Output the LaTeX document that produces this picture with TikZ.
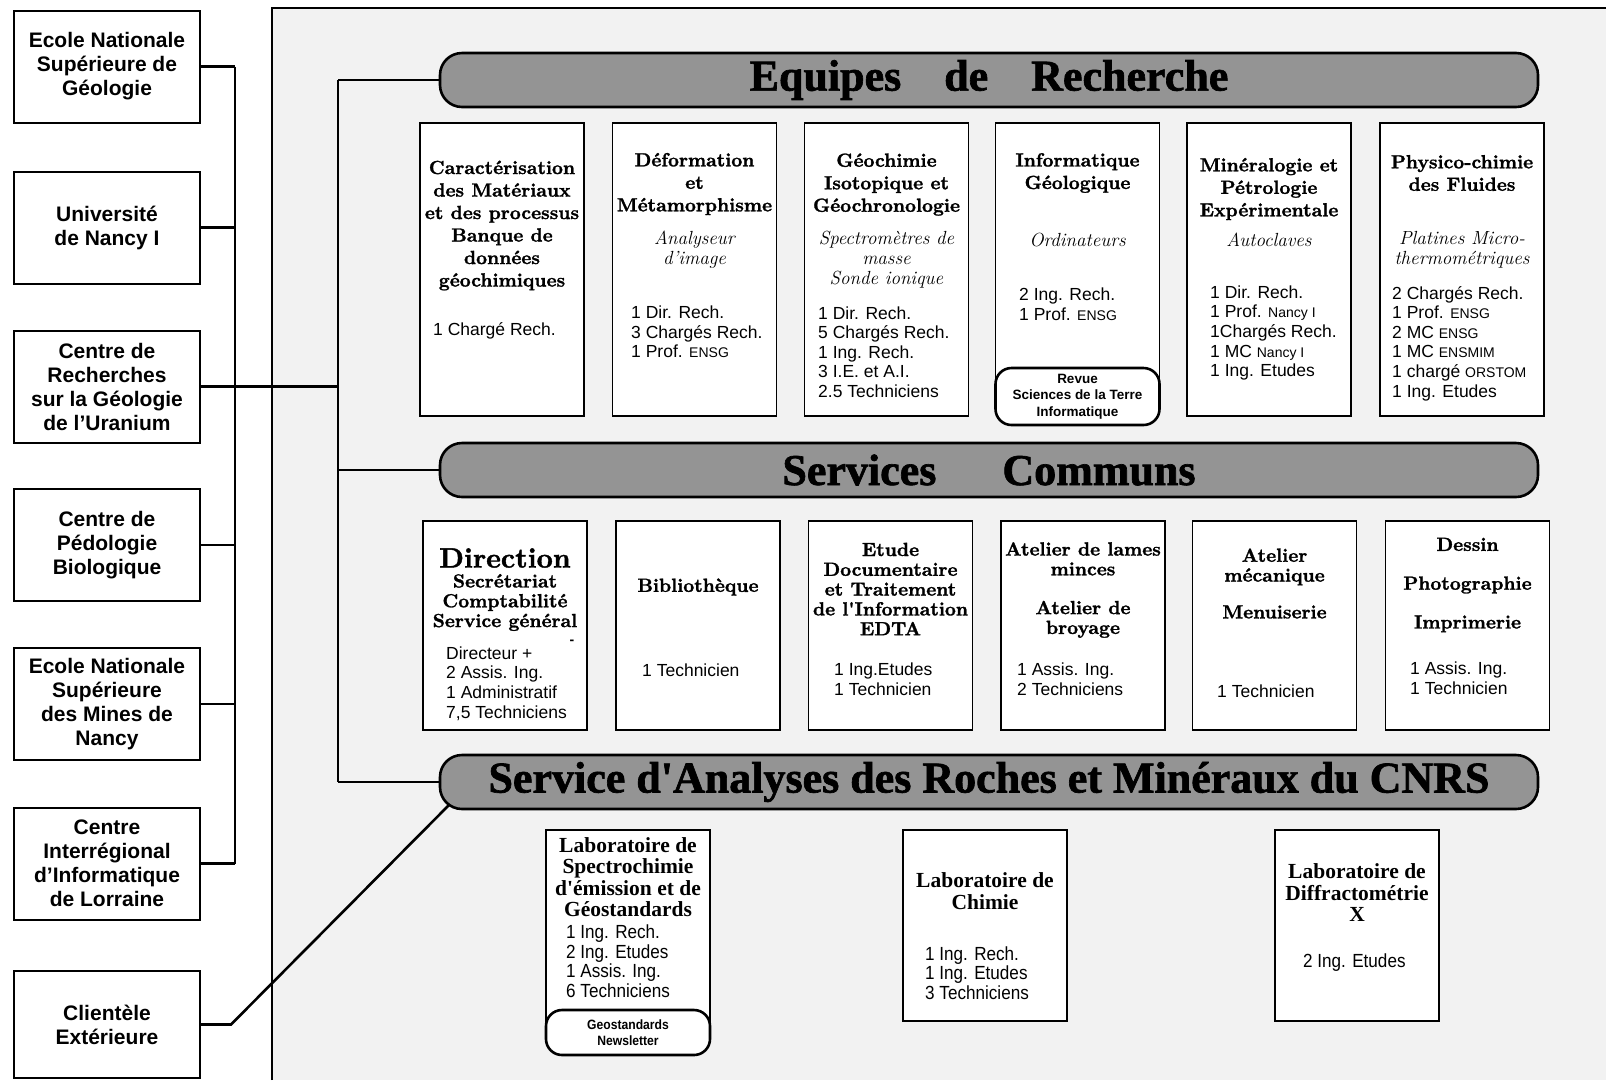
\documentclass[tikz,border=0pt]{standalone}
\usepackage{fontspec}
\setsansfont{Liberation Sans}
\newfontfamily\headfont[FakeBold=1.4]{lmroman10-bold.otf}
\newfontfamily\bannerfont[FakeBold=1.5]{Liberation Serif}
\newfontfamily\labfont{Liberation Serif}
\newfontfamily\narrowsans[FakeStretch=0.9]{Liberation Sans}
\usetikzlibrary{calc}

\newcommand{\smallorg}[1]{{\fontsize{14}{14}\selectfont #1}}

\tikzset{
  orgbox/.style={draw, line width=2pt, fill=white, minimum width=186pt, minimum height=112pt,
    align=center, font=\sffamily\bfseries\fontsize{21}{24}\selectfont},
  unitbox/.style={draw, line width=1.8pt, fill=white, minimum width=164pt},
  banner/.style={draw, line width=2.6pt, rounded corners=22pt, fill=black!42,
    minimum width=1098pt, minimum height=54pt, font=\bannerfont\bfseries\fontsize{44}{44}\selectfont},
  pubbox/.style={draw, line width=2.6pt, rounded corners=16pt, fill=white, minimum width=164pt,
    align=center, inner sep=0pt},
  link/.style={line width=2.6pt},
  head/.style={align=center, inner sep=0pt, font=\headfont\fontsize{19}{22.5}\selectfont},
  headtight/.style={align=center, inner sep=0pt, font=\headfont\fontsize{19}{19.8}\selectfont},
  labhead/.style={align=center, inner sep=0pt, font=\labfont\bfseries\fontsize{21.5}{21.5}\selectfont},
  equip/.style={align=center, inner sep=0pt, font=\itshape\fontsize{19}{20}\selectfont},
  staff/.style={anchor=west, align=left, inner sep=0pt, font=\sffamily\fontsize{17.5}{19.6}\selectfont},
  labstaff/.style={anchor=west, align=left, inner sep=0pt, font=\narrowsans\fontsize{19}{19.5}\selectfont},
}

\begin{document}
\begin{tikzpicture}[x=1pt,y=-1pt]
  \useasboundingbox (0,0) rectangle (1606,1080);

  \fill[black!5] (272,8) rectangle (1606,1080);
  \draw[line width=1.6pt] (272,1080) -- (272,8) -- (1606,8);

  \node[orgbox] (ensg) at (107,66.5) {Ecole Nationale\\Supérieure de\\Géologie};
  \node[orgbox] (nancy) at (107,227.5) {Université\\de Nancy I};
  \node[orgbox] (crgu) at (107,386.5) {Centre de\\Recherches\\sur la Géologie\\de l'Uranium};
  \node[orgbox] (cpb) at (107,545) {Centre de\\Pédologie\\Biologique};
  \node[orgbox] (ensmn) at (107,704) {Ecole Nationale\\Supérieure\\des Mines de\\Nancy};
  \node[orgbox] (ciil) at (107,863.5) {Centre\\Interrégional\\d'Informatique\\de Lorraine};
  \node[orgbox, minimum height=107pt] (client) at (107,1024.5) {Clientèle\\Extérieure};

  \node[banner] (equipes) at (989,80) {Equipes\hspace{43pt}de\hspace{43pt}Recherche};
  \node[banner] (services) at (989,470) {Services\hspace{66pt}Communs};
  \node[banner] (sarm) at (989,782) {Service d'Analyses des Roches et Minéraux du CNRS};

  \coordinate (bus) at (235,0);
  \coordinate (bracket) at (338,0);
  \draw[link] (ensg.east -| bus) -- (ciil.east -| bus);
  \foreach \org in {ensg,nancy,cpb,ensmn,ciil}
    \draw[link] (\org.east) -- (\org.east -| bus);
  \draw[link] (crgu.east) -- (crgu.east -| bracket);
  \draw[link] (equipes.west -| bracket) -- (sarm.west -| bracket);
  \foreach \ban in {equipes,services,sarm}
    \draw[link] (\ban.west -| bracket) -- (\ban.west);
  \draw[link] (client.east) -- ++(30,0) -- ($(sarm.south west)+(11,-6)$);

  \node[unitbox, minimum height=293pt] (carac) at (502,269.5) {};
  \node[head] at (502,225.5) {Caractérisation\\des Matériaux\\et des processus\\Banque de\\données\\géochimiques};
  \node[staff] at (433,331) {1 Chargé Rech.};

  \node[unitbox, minimum height=293pt] (deform) at (694.5,269.5) {};
  \node[head] at (694.5,184) {Déformation\\et\\Métamorphisme};
  \node[equip] at (694.5,250) {Analyseur\\d'image};
  \node[staff] at (631,332) {1 Dir. Rech.\\3 Chargés Rech.\\1 Prof. \smallorg{ENSG}};

  \node[unitbox, minimum height=293pt] (geochim) at (886.5,269.5) {};
  \node[head] at (886.5,184.5) {Géochimie\\Isotopique et\\Géochronologie};
  \node[equip] at (886.5,260) {Spectromètres de\\masse\\Sonde ionique};
  \node[staff] at (818,352) {1 Dir. Rech.\\5 Chargés Rech.\\1 Ing. Rech.\\3 I.E. et A.I.\\2.5 Techniciens};

  \node[unitbox, minimum height=277pt] (info) at (1077.5,261.5) {};
  \node[head] at (1077.5,173) {Informatique\\Géologique};
  \node[equip] at (1077.5,240) {Ordinateurs};
  \node[staff] at (1019,304) {2 Ing. Rech.\\1 Prof. \smallorg{ENSG}};
  \node[pubbox, minimum height=57pt, font=\sffamily\bfseries\fontsize{13.5}{16.5}\selectfont] (revue)
    at (1077.5,396.5) {Revue\\Sciences de la Terre\\Informatique};

  \node[unitbox, minimum height=293pt] (mineral) at (1269,269.5) {};
  \node[head] at (1269,189) {Minéralogie et\\Pétrologie\\Expérimentale};
  \node[equip] at (1269,240) {Autoclaves};
  \node[staff] at (1210,333) {1 Dir. Rech.\\1 Prof. \smallorg{Nancy I}\\1Chargés Rech.\\1 MC \smallorg{Nancy I}\\1 Ing. Etudes};

  \node[unitbox, minimum height=293pt] (fluides) at (1462,269.5) {};
  \node[head] at (1462,173) {Physico-chimie\\des Fluides};
  \node[equip] at (1462,249.5) {Platines Micro-\\thermométriques};
  \node[staff] at (1392,343.5) {2 Chargés Rech.\\1 Prof. \smallorg{ENSG}\\2 MC \smallorg{ENSG}\\1 MC \smallorg{ENSMIM}\\1 chargé \smallorg{ORSTOM}\\1 Ing. Etudes};

  \node[unitbox, minimum height=209pt] (direction) at (505,625.5) {};
  \node[inner sep=0pt, font=\headfont\fontsize{28}{28}\selectfont] at (505,558) {Direction};
  \node[headtight] at (505,602.5) {Secrétariat\\Comptabilité\\Service général};
  \node[inner sep=0pt, font=\sffamily\bfseries\fontsize{14}{14}\selectfont] at (572,642) {-};
  \node[staff] at (446,683.5) {Directeur +\\2 Assis. Ing.\\1 Administratif\\7,5 Techniciens};

  \node[unitbox, minimum height=209pt] (biblio) at (698,625.5) {};
  \node[headtight] at (698,587) {Bibliothèque};
  \node[staff] at (642,670) {1 Technicien};

  \node[unitbox, minimum height=209pt] (edta) at (890.5,625.5) {};
  \node[headtight] at (890.5,589) {Etude\\Documentaire\\et Traitement\\de l'Information\\EDTA};
  \node[staff] at (834,679.5) {1 Ing.Etudes\\1 Technicien};

  \node[unitbox, minimum height=209pt] (lames) at (1083,625.5) {};
  \node[headtight] at (1083,590) {Atelier de lames\\minces\\[19pt]Atelier de\\broyage};
  \node[staff] at (1017,679.5) {1 Assis. Ing.\\2 Techniciens};

  \node[unitbox, minimum height=209pt] (meca) at (1274.5,625.5) {};
  \node[headtight] at (1274.5,583.5) {Atelier\\mécanique\\[17pt]Menuiserie};
  \node[staff] at (1217,691) {1 Technicien};

  \node[unitbox, minimum height=209pt] (dessin) at (1467.5,625.5) {};
  \node[headtight] at (1467.5,585) {Dessin\\[19pt]Photographie\\[19pt]Imprimerie};
  \node[staff] at (1410,678.5) {1 Assis. Ing.\\1 Technicien};

  \node[unitbox, minimum height=200pt] (spectro) at (628,930) {};
  \node[labhead] at (628,877) {Laboratoire de\\Spectrochimie\\d'émission et de\\Géostandards};
  \node[labstaff] at (566,961) {1 Ing. Rech.\\2 Ing. Etudes\\1 Assis. Ing.\\6 Techniciens};
  \node[pubbox, minimum height=45pt, font=\narrowsans\bfseries\fontsize{13.5}{16.5}\selectfont] (geostd)
    at (628,1032.5) {Geostandards\\Newsletter};

  \node[unitbox, minimum height=191pt] (chimie) at (985,925.5) {};
  \node[labhead] at (985,891) {Laboratoire de\\Chimie};
  \node[labstaff] at (925,973) {1 Ing. Rech.\\1 Ing. Etudes\\3 Techniciens};

  \node[unitbox, minimum height=191pt] (diffrac) at (1357,925.5) {};
  \node[labhead] at (1357,893) {Laboratoire de\\Diffractométrie\\X};
  \node[labstaff] at (1303,963) {2 Ing. Etudes};

\end{tikzpicture}
\end{document}
